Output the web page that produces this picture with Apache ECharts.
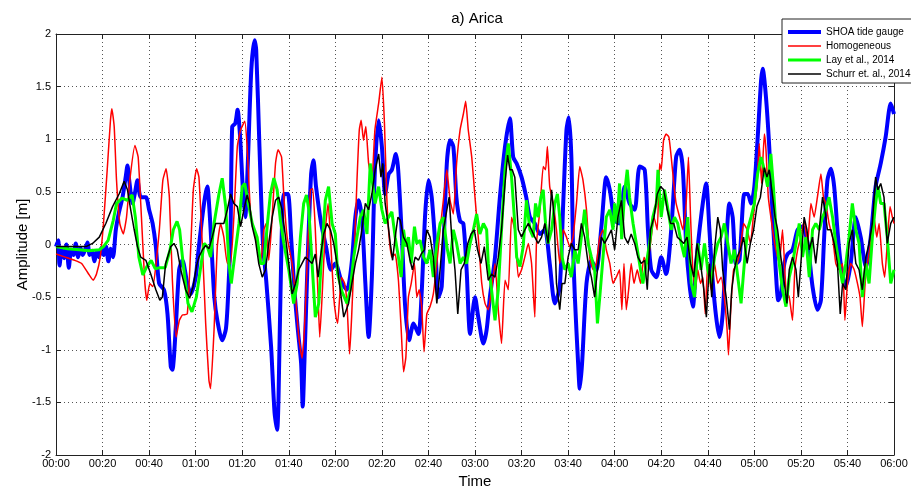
<!DOCTYPE html>
<html>
<head>
<meta charset="utf-8">
<title>a) Arica</title>
<script src="https://cdn.jsdelivr.net/npm/echarts@6/dist/echarts.min.js"></script>
<style>
  html, body { margin: 0; padding: 0; background: #fff; }
  #chart { width: 911px; height: 490px; }
</style>
</head>
<body>
<div id="chart"></div>
<script>
// Time axis in minutes after 00:00, amplitude in metres.
const timeTicks = { min: 0, max: 360, step: 20 };
const ampTicks = { min: -2, max: 2, step: 0.5 };

const seriesNames = ['SHOA tide gauge', 'Homogeneous', 'Lay et al., 2014', 'Schurr et. al., 2014'];

// Observed record at the SHOA tide gauge
const shoaGauge = [
  [0,-0.02],[1,0.04],[1.5,-0.2],[2.5,-0.05],[3.5,-0.13],[4.5,0.0],[5.5,-0.22],[6.5,-0.05],[7.5,-0.1],[8.5,0.01],
  [9.5,-0.12],[10.5,-0.03],[11.5,-0.1],[12.5,-0.05],[13.5,0.02],[14.5,-0.1],[15.5,-0.06],[16.5,-0.16],[17.5,-0.07],
  [18.5,-0.12],[19.5,-0.03],[20.5,-0.1],[21.5,-0.02],[22.5,-0.16],[23.5,-0.04],[24.5,-0.12],[25.7,0.14],[27,0.3],
  [28.6,0.45],[30,0.65],[30.7,0.75],[31.5,0.6],[32.9,0.39],[34,0.5],[35,0.61],[36.4,0.45],[38.6,0.45],[40,0.33],
  [41.5,0.2],[42.9,-0.02],[44.3,-0.37],[46.4,-0.43],[47.9,-0.66],[49.3,-1.16],[50,-1.19],[51.4,-0.81],[52.9,-0.24],
  [54.3,-0.15],[56.4,-0.37],[57.9,-0.47],[60,-0.31],[61,-0.1],[62.5,0.2],[64,0.45],[65,0.55],[66,0.3],[67,-0.1],
  [68,-0.5],[69.3,-0.72],[71.4,-0.91],[73,-0.8],[74,-0.45],[75,0.14],[75.7,1.12],[77,1.15],[78,1.28],[79,1.05],
  [80.3,0.52],[81.3,0.26],[82.4,0.77],[83.9,1.66],[85.3,1.94],[86,1.85],[87.4,0.93],[88.9,0.01],[90.3,-0.34],
  [92.4,-0.97],[93.9,-1.6],[95,-1.76],[95.6,-1.45],[96.7,-0.18],[97.9,0.48],[99.6,0.48],[101,0.07],[102.4,-0.43],
  [103.9,-0.81],[105.3,-1.13],[106,-1.54],[106.7,-1.13],[108.1,-0.15],[109.6,0.67],[110.6,0.8],[111.7,0.55],
  [113.9,0.2],[116,-0.02],[118.1,-0.24],[120,-0.18],[122.9,-0.37],[125,-0.43],[127,-0.18],[128.6,0.26],[130,0.42],
  [131.4,0.26],[132.9,-0.37],[134.3,-0.88],[135.7,-0.31],[137,0.71],[138.6,1.18],[140,0.93],[141.4,0.48],
  [142.9,0.67],[144.3,0.71],[146,0.86],[147,0.71],[148.6,0.07],[150,-0.59],[151.7,-0.91],[153.6,-0.75],
  [155.7,-0.85],[157,-0.5],[158.6,0.29],[160,0.61],[161.4,0.45],[162.9,0.01],[164.3,-0.5],[165.7,-0.4],
  [167.9,0.77],[169.3,0.99],[170.7,0.93],[172,0.45],[173.6,0.22],[175,0.2],[176.4,-0.24],[177.9,-0.85],[180,-0.5],
  [181.4,-0.69],[183.6,-0.94],[185,-0.81],[186.4,-0.5],[188.6,-0.12],[190.7,0.45],[192.9,0.93],[195,1.2],
  [196.4,0.83],[197.9,0.77],[200,0.64],[202,0.45],[203.6,0.26],[205.7,0.2],[207.9,0.1],[210,0.14],[212.1,-0.18],
  [214.3,-0.56],[216.4,-0.4],[217.9,0.39],[219.3,1.09],[220.3,1.21],[221.4,0.83],[222.1,0.0],[222.9,-0.5],
  [224.3,-1.13],[225,-1.37],[226,-1.13],[227.9,-0.37],[230,-0.15],[232.1,-0.24],[234.3,0.17],[236.4,0.64],
  [237.9,0.52],[240,0.23],[242,0.2],[244.3,0.55],[246.4,0.39],[248.6,0.33],[250.7,0.74],[252.9,0.71],[254.3,0.14],
  [255.7,-0.24],[257.9,-0.31],[260,-0.12],[262.1,-0.28],[264.3,0.14],[266.4,0.83],[267.9,0.9],[269.3,0.71],
  [270.7,0.01],[272.1,-0.37],[273.6,-0.59],[275,-0.18],[277.1,0.26],[279.3,0.58],[280.7,0.14],[282.1,-0.34],
  [283.6,-0.69],[285,-0.88],[286.4,-0.66],[287.9,-0.02],[289.3,0.39],[290.7,0.26],[292.1,-0.18],[293.6,-0.15],
  [295.7,0.48],[297.1,0.48],[298.6,0.39],[300,0.55],[301.4,1.0],[302.9,1.56],[303.6,1.67],[305,1.4],[306.4,0.93],
  [307.9,0.26],[309.3,-0.28],[310.3,-0.53],[311.4,-0.47],[312.9,-0.18],[314.3,-0.09],[316.4,-0.05],[318.6,0.14],
  [320.7,0.17],[322.9,0.01],[325,-0.4],[327.1,-0.62],[328.6,-0.53],[330,0.07],[331.4,0.61],[332.9,0.72],
  [334.3,0.55],[335.7,0.14],[337.1,-0.18],[339.3,-0.4],[341.4,-0.18],[343.6,0.26],[345.7,0.07],[347.9,-0.21],
  [350,0.07],[352.1,0.55],[354.3,0.77],[356.4,1.02],[358.6,1.34],[360,1.24]
];

// Homogeneous slip model
const homogeneous = [
  [0,-0.09],[4,-0.12],[8,-0.15],[11,-0.18],[14,-0.28],[16,-0.34],[17.4,-0.28],[19,-0.12],[20.4,0.2],[22,0.71],
  [23.4,1.18],[24,1.29],[25,1.12],[26,0.61],[27.4,0.2],[28.9,0.1],[30.3,0.26],[31.7,0.61],[33.9,0.94],[35.3,0.83],
  [36.7,0.26],[38.1,-0.34],[39,-0.53],[40.3,-0.37],[41.6,-0.4],[43,-0.18],[44.4,0.14],[45.9,0.61],[47.3,0.72],
  [48.7,0.45],[50,-0.34],[51.6,-0.88],[53,-0.72],[54.3,-0.67],[56.4,-0.66],[57.9,-0.02],[59,0.52],[60.4,0.72],
  [61.4,0.64],[62.9,-0.02],[64.3,-0.75],[65.7,-1.29],[66.4,-1.37],[67.9,-0.81],[69.3,-0.02],[70.7,0.2],[72.1,0.07],
  [73.6,-0.18],[75,-0.18],[76.4,0.26],[77.9,0.93],[79.3,1.09],[81.1,1.17],[82.1,0.93],[83.6,0.29],[85,0.14],
  [86.4,0.01],[87.9,-0.18],[89.3,0.14],[90.3,0.2],[91.4,-0.15],[92.6,0.17],[94.3,0.77],[95.4,0.9],[96.9,0.83],
  [97.9,0.45],[99.3,0.07],[101.4,-0.18],[102.9,-0.5],[104.3,-0.88],[105.7,-1.08],[106.7,-0.81],[107.9,-0.18],
  [109.3,0.52],[110.3,0.53],[111.4,0.14],[112.6,-0.5],[113.3,-0.88],[114.3,-0.5],[115.7,0.14],[116.9,0.39],
  [117.9,0.07],[119.3,-0.5],[120.3,-0.69],[121,-0.75],[122.6,-0.31],[124,-0.37],[125,-0.56],[126.1,-1.04],
  [127,-0.69],[128.3,0.01],[129.3,0.61],[130.3,1.09],[131.1,1.18],[132.1,0.99],[133.1,1.12],[134.3,0.77],
  [135.7,0.61],[137,1.09],[138.6,1.34],[140,1.59],[141.1,1.15],[142.1,0.45],[143.1,0.07],[144.3,-0.12],
  [145.7,-0.09],[147.1,-0.34],[148.3,-0.81],[149.3,-1.21],[150.3,-1.07],[151.4,-0.5],[152.6,-0.37],[154,-0.18],
  [155,-0.5],[156,-0.43],[157.1,-0.59],[158.1,-1.02],[159.3,-0.66],[160.7,-0.59],[162.1,-0.47],[163.6,-0.18],
  [165,0.14],[166.4,0.42],[167.9,0.71],[169.3,0.42],[170.7,0.29],[172.1,0.77],[173.6,1.09],[175,1.24],[176,1.36],
  [177.1,1.09],[178.6,0.83],[180,0.45],[181.4,0.07],[182.9,-0.37],[184.3,-0.56],[185.7,-0.62],[187.1,-0.43],
  [188.6,-0.18],[190,-0.62],[191.4,-0.94],[192.9,-0.34],[194.3,-0.43],[195.7,0.26],[197.1,0.14],[198.6,-0.31],
  [200,-0.24],[201.4,-0.12],[202.9,0.01],[204.3,-0.18],[205.7,-0.69],[206.4,0.01],[207.9,0.33],[209.3,0.74],
  [210.3,0.71],[211.1,0.93],[212.1,0.55],[213.6,0.39],[215,0.14],[216.4,-0.18],[217.9,0.14],[219.3,0.07],
  [220.7,-0.02],[222.1,0.07],[223.6,0.39],[225,0.74],[226.4,0.61],[227.9,0.33],[229.3,-0.12],[230.7,-0.24],
  [232.1,-0.18],[233.6,0.07],[235,0.14],[236.4,-0.05],[237.9,-0.18],[239.3,-0.37],[240.7,-0.31],[242.1,-0.24],
  [243.1,-0.62],[244,-0.18],[245,-0.62],[246,-0.43],[247.1,-0.18],[248.3,-0.37],[249.7,-0.24],[251.1,-0.37],
  [252.6,-0.12],[254,-0.18],[255.4,0.01],[256.9,0.26],[258.3,0.14],[259.3,0.77],[260,0.71],[261,0.99],
  [262.1,1.05],[263.3,1.02],[264.3,0.83],[265.4,0.58],[266.4,0.39],[267.9,0.26],[269.3,0.14],[270.7,0.39],
  [271.7,0.83],[272.6,0.26],[273.6,-0.24],[274.7,-0.43],[275.7,-0.24],[276.9,-0.37],[277.9,-0.31],[278.9,-0.66],
  [280,-0.18],[281.4,-0.43],[282.9,-0.18],[284.3,-0.37],[285.7,-0.31],[287.1,-0.5],[288.3,-0.81],[288.9,-1.05],
  [290,-0.56],[291.1,-0.24],[292.6,-0.18],[294,-0.05],[295.4,0.2],[296.9,0.14],[298.3,0.01],[299.7,0.29],
  [301.1,0.55],[302.1,0.96],[303.1,0.58],[304.3,1.05],[305,0.9],[306,0.45],[307.1,0.26],[308.3,0.07],[309.3,-0.05],
  [310.7,-0.18],[312.1,0.14],[313.6,-0.43],[315,-0.5],[316.4,-0.72],[317.4,-0.24],[318.6,-0.05],[320,0.07],
  [321.4,0.23],[322.9,0.01],[324.3,0.39],[325.7,0.26],[327.1,0.45],[328.6,0.67],[329.7,0.45],[330.7,0.39],
  [332.1,0.2],[333.6,0.07],[335,-0.18],[336.4,-0.24],[337.9,-0.18],[338.9,-0.72],[340,-0.37],[341.4,-0.18],
  [342.9,-0.24],[344.3,-0.37],[345.4,-0.5],[346.4,-0.78],[347.6,-0.37],[348.6,-0.18],[350,0.01],[351.4,0.26],
  [352.6,0.07],[353.6,0.2],[355,-0.18],[356,-0.31],[357.1,0.01],[358.3,0.36],[359.3,0.26],[360,0.2]
];

// Lay et al. (2014) source model
const layModel = [
  [0,-0.02],[5,-0.04],[10,-0.05],[14,-0.06],[18.6,-0.05],[20.4,-0.02],[22.4,0.04],[24.6,0.23],[26,0.39],
  [28.4,0.44],[30.6,0.42],[32.7,0.47],[34.1,0.26],[35.6,-0.12],[37.3,-0.29],[39,-0.21],[40.9,-0.15],[42.6,-0.23],
  [44.7,-0.22],[46.9,-0.22],[49,-0.05],[50.4,0.14],[52,0.22],[53.1,0.14],[54.6,-0.18],[56.7,-0.56],[58.4,-0.64],
  [60.3,-0.5],[62,-0.24],[63.6,0.01],[65,-0.02],[66.4,-0.12],[67.9,0.2],[70,0.48],[71.4,0.63],[72.9,0.36],
  [74.3,-0.18],[75.3,-0.37],[77,-0.07],[78.6,0.2],[80,0.55],[81.1,0.58],[82.6,0.39],[84.3,0.2],[86.4,0.07],
  [87.9,-0.18],[89.3,-0.18],[90.7,0.17],[92.1,0.48],[93.6,0.63],[95,0.52],[96.4,0.23],[97.9,0.01],[100,-0.24],
  [102.1,-0.56],[103.6,-0.37],[105,0.07],[106.4,0.39],[107.6,0.47],[108.6,0.33],[110,-0.18],[111.4,-0.69],
  [112.9,-0.56],[114.3,-0.02],[115.7,0.42],[117.1,0.55],[118.6,0.2],[120,0.1],[121,-0.28],[122.9,-0.45],[125,-0.56],
  [126.4,-0.43],[127.9,-0.12],[129.3,0.07],[130.7,0.26],[132.1,0.33],[133.6,0.1],[135,0.77],[136,0.58],[137.1,0.39],
  [138.6,0.55],[140,0.33],[141.4,0.2],[142.9,0.26],[144.3,0.31],[145.7,0.07],[147.1,-0.12],[148.3,-0.31],
  [149.3,0.14],[150.3,-0.02],[151.4,0.07],[152.6,-0.18],[154,0.17],[155,0.01],[156.4,0.04],[157.9,-0.12],
  [159.3,-0.18],[160.7,-0.05],[162.1,-0.31],[163.6,0.01],[165,0.2],[166.4,0.26],[167.9,-0.02],[169.3,-0.18],
  [170.7,0.14],[172.1,0.01],[173.6,-0.18],[175,-0.12],[176.4,-0.18],[177.9,0.01],[179.3,0.14],[180.7,0.29],
  [182.1,0.1],[183.6,0.2],[185,0.14],[185.7,-0.18],[187.1,-0.43],[188.6,-0.72],[190,-0.43],[191.4,0.14],
  [192.9,0.71],[194.3,0.96],[195.7,0.64],[196.9,0.26],[197.9,-0.12],[199.3,-0.21],[200.7,-0.02],[202.1,0.42],
  [203.6,0.14],[205,0.07],[206,0.39],[207.1,0.26],[208.3,0.45],[209.3,0.52],[210.3,0.2],[211.4,0.01],[212.9,0.14],
  [214.3,0.39],[215.4,0.48],[216.4,0.26],[217.4,-0.12],[218.6,-0.24],[220,-0.18],[221.4,-0.31],[222.9,-0.05],
  [224.3,-0.18],[225.7,0.07],[227.1,0.33],[228.6,0.01],[230,-0.12],[231.4,-0.24],[232.6,-0.75],[233.6,-0.5],
  [235,-0.12],[236.4,0.26],[237.9,0.33],[239.3,0.14],[240,0.39],[241,0.2],[242.1,0.58],[243,0.05],[244.3,0.5],
  [245.4,0.71],[246.4,0.45],[247.9,0.2],[249.3,0.01],[250.7,-0.18],[252.1,-0.37],[253.6,-0.18],[255,0.01],
  [256.4,0.26],[257.9,0.39],[258.6,0.71],[260,0.26],[261.4,0.52],[262.9,0.33],[264.3,0.14],[265.7,0.26],
  [267.1,0.2],[268.6,0.01],[270,-0.12],[271.4,0.26],[272.9,-0.37],[274.3,-0.5],[275.7,0.01],[277.1,-0.24],
  [278.6,0.01],[280,-0.24],[281.4,-0.37],[282.9,-0.12],[284.3,0.01],[285.7,0.07],[287.1,0.2],[288.6,0.01],
  [290,-0.18],[291.4,-0.05],[292.9,-0.31],[294.3,-0.56],[295.7,-0.18],[297.1,0.14],[298.6,0.26],[300,0.39],
  [301.4,0.67],[302.9,0.83],[304.3,0.71],[305.7,0.55],[307.1,0.86],[308.3,0.52],[309.3,0.14],[310.7,-0.18],
  [312.1,-0.43],[313.6,-0.59],[315,-0.31],[316.4,-0.18],[317.9,0.01],[319.3,0.2],[320.7,-0.12],[322.1,0.07],
  [323.6,-0.31],[325,0.14],[326.4,0.2],[327.9,0.14],[329.3,0.26],[330.7,0.33],[332.1,0.45],[333.6,0.26],[335,0.01],
  [336.4,-0.18],[337.9,-0.37],[339.3,-0.18],[340.7,0.07],[342.1,0.39],[343.6,0.14],[345,0.01],[346.4,-0.5],
  [347.9,-0.18],[349.3,-0.37],[350.7,0.07],[352.1,0.39],[353.1,0.55],[354.3,0.39],[355.7,0.39],[357.1,0.07],
  [358.6,-0.37],[360,-0.24]
];

// Schurr et al. (2014) source model
const schurrModel = [
  [0,-0.02],[5,-0.02],[10,-0.02],[12.9,-0.02],[15.7,0.01],[18.6,0.07],[21.4,0.2],[24.3,0.36],[27.1,0.48],
  [29.3,0.6],[30.7,0.52],[32.1,0.33],[33.6,0.14],[35,-0.02],[36.4,-0.12],[38.6,-0.15],[40.7,-0.28],[42.9,-0.43],
  [44.6,-0.53],[45.7,-0.5],[47.1,-0.18],[49.3,-0.02],[50.7,0.01],[52.1,-0.05],[53.6,-0.24],[55.7,-0.43],
  [57.4,-0.51],[58.9,-0.4],[60.4,-0.2],[61.4,-0.12],[62.9,-0.05],[64.3,-0.01],[65.7,-0.04],[67.1,0.07],[68.6,0.2],
  [70.7,0.2],[72.1,0.2],[73.6,0.33],[75,0.48],[76.4,0.39],[77.9,0.36],[79.3,0.17],[80.7,0.33],[82.1,0.47],
  [83.1,0.39],[84.3,0.17],[85.7,0.04],[87.1,-0.18],[88.6,-0.31],[90,-0.24],[91.4,0.01],[92.9,0.26],[94.3,0.42],
  [95.7,0.45],[97.1,0.33],[98.6,0.07],[100,-0.18],[101.4,-0.47],[102.9,-0.37],[104.3,-0.24],[105.7,-0.18],
  [107.1,-0.12],[108.6,-0.15],[110,-0.18],[111.4,-0.09],[112.6,-0.31],[113.6,-0.12],[115,0.1],[116.4,0.2],
  [117.9,0.14],[119.3,0.01],[120.7,-0.18],[122.1,-0.43],[123.6,-0.69],[125.7,-0.56],[127.1,-0.37],[128.6,-0.18],
  [130,-0.05],[131.4,0.14],[132.9,0.39],[134.3,0.33],[135.7,0.48],[137.1,0.71],[138.6,0.86],[139.6,0.64],
  [140.4,0.77],[141.4,0.39],[142.6,0.2],[143.6,0.01],[144.6,-0.15],[145.7,0.07],[146.9,0.26],[147.9,0.23],
  [149.3,0.07],[150.7,0.01],[152.1,-0.15],[153.1,-0.24],[154.3,-0.12],[155.7,-0.15],[156.9,-0.09],[158.3,-0.05],
  [159.3,0.14],[160.7,0.07],[162.1,-0.12],[163.6,-0.56],[165,-0.24],[166.4,0.14],[167.9,0.33],[168.9,0.45],
  [170,0.07],[171.4,-0.24],[172.6,-0.66],[174,-0.24],[175.4,-0.18],[176.9,0.01],[178.3,0.1],[179.7,0.14],
  [181.1,-0.05],[182.6,-0.18],[184,-0.02],[185.7,-0.34],[187.1,-0.28],[188.6,-0.31],[190,-0.12],[191.4,0.14],
  [192.9,0.58],[194,0.85],[195,0.71],[196,0.71],[197.1,0.64],[198.6,0.14],[200,0.07],[201.4,0.14],[202.9,0.2],
  [204.3,0.14],[205.7,0.07],[207.1,0.01],[208.6,0.07],[210,0.2],[211.4,0.01],[212.9,0.52],[214,0.26],[215,-0.37],
  [216.4,-0.62],[217.4,-0.37],[218.6,-0.37],[220,-0.12],[221.4,0.01],[222.9,-0.05],[224.3,-0.05],[225.7,0.2],
  [227.1,0.07],[228.6,-0.18],[230,-0.31],[231.4,-0.5],[232.9,-0.18],[234.3,0.07],[235.7,0.01],[237.1,0.07],
  [238.6,0.14],[240,-0.05],[241.4,0.26],[242.9,0.42],[244.3,0.07],[245.7,0.01],[247.1,0.1],[248.6,0.01],[250,-0.12],
  [251.4,-0.18],[252.9,-0.15],[254,-0.43],[255.4,0.14],[256.9,0.26],[258.3,0.48],[259.7,0.55],[261.1,0.52],
  [262.6,0.33],[264,0.2],[265.4,0.2],[266.9,0.07],[268.3,0.04],[269.7,0.01],[271.1,0.07],[272.6,-0.18],[274,-0.31],
  [275.4,0.01],[276.9,-0.18],[278.3,-0.43],[279.4,-0.69],[280.7,-0.18],[281.7,-0.5],[282.9,-0.05],[284.3,0.26],
  [285.4,0.14],[286.4,-0.24],[287.9,-0.5],[289.3,-0.81],[290.3,-0.43],[291.4,-0.24],[292.6,-0.12],[294,-0.05],
  [295.4,0.07],[296.9,-0.18],[298.3,0.01],[299.7,0.14],[301.1,0.36],[302.6,0.45],[304.3,0.73],[305.4,0.64],
  [306.4,0.71],[307.9,0.45],[308.9,0.26],[310,0.14],[311.4,-0.12],[312.9,-0.37],[314,-0.56],[315,-0.24],
  [316.4,-0.12],[317.9,-0.24],[318.9,-0.5],[320,-0.18],[321.4,0.26],[322.6,0.14],[323.6,-0.05],[325,0.07],
  [326.4,-0.18],[327.9,0.14],[329.3,0.45],[330.3,0.33],[331.4,0.14],[332.9,0.14],[334.3,0.01],[335.7,-0.18],
  [336.9,-0.66],[337.9,-0.37],[339.3,-0.43],[340.7,0.01],[342.1,0.14],[343.6,-0.18],[345,-0.24],[346.4,-0.43],
  [347.9,-0.12],[349.3,0.01],[350.7,0.2],[352.1,0.64],[353.1,0.52],[354.3,0.58],[355.7,0.45],[357.1,0.01],
  [358.6,0.2],[360,0.26]
];

const FONT = '"Liberation Sans", Arial, Helvetica, sans-serif';

// Line look per series: colour and stroke width
const seriesColors = ['#0000ff', '#ff0000', '#00ff00', '#000000'];
const seriesWidths = [4, 1.5, 3, 1.5];

function hhmm(minutes) {
  const h = Math.floor(minutes / 60);
  const m = Math.round(minutes % 60);
  return String(h).padStart(2, '0') + ':' + String(m).padStart(2, '0');
}

const gridDots = { show: true, lineStyle: { color: '#555', width: 1, type: [1, 3] } };
const boxLine = { show: true, onZero: false, lineStyle: { color: '#222', width: 1 } };
const inTick = { show: true, inside: true, length: 5, lineStyle: { color: '#222', width: 1 } };

const chart = echarts.init(document.getElementById('chart'), null, { renderer: 'canvas' });

const dataSets = [shoaGauge, homogeneous, layModel, schurrModel];
const smoothing = [0.25, 0.15, false, false];

chart.setOption({
  animation: false,
  backgroundColor: '#fff',
  textStyle: { fontFamily: FONT },
  grid: { left: 56, right: 17, top: 34, bottom: 35, containLabel: false, outerBoundsMode: 'none' },
  title: {
    text: 'a) Arica',
    left: 472, top: 6,
    textAlign: 'center',
    textStyle: { fontFamily: FONT, fontSize: 15, fontWeight: 'normal', color: '#000' }
  },
  legend: {
    orient: 'vertical',
    left: 782, top: 19,
    itemWidth: 33, itemHeight: 10, itemGap: 4,
    padding: [8, 2, 4, 4],
    backgroundColor: '#fff',
    borderColor: '#222', borderWidth: 1, borderRadius: 0,
    itemStyle: { opacity: 0 },
    textStyle: { fontFamily: FONT, fontSize: 10, color: '#000', lineHeight: 10 },
    data: seriesNames.map((name, i) => ({
      name,
      lineStyle: { color: seriesColors[i], width: seriesWidths[i] },
      itemStyle: { opacity: 0 }
    }))
  },
  xAxis: [
    {
      type: 'value', position: 'bottom',
      min: timeTicks.min, max: timeTicks.max, interval: timeTicks.step,
      name: 'Time', nameLocation: 'middle', nameGap: 19, nameMoveOverlap: false,
      nameTextStyle: { fontFamily: FONT, fontSize: 15, color: '#000' },
      axisLine: boxLine, axisTick: inTick, splitLine: gridDots,
      axisLabel: { fontFamily: FONT, fontSize: 11, color: '#000', margin: 3, formatter: v => hhmm(v) }
    },
    {
      type: 'value', position: 'top',
      min: timeTicks.min, max: timeTicks.max, interval: timeTicks.step,
      axisLine: boxLine, axisTick: inTick, splitLine: { show: false }, axisLabel: { show: false }
    }
  ],
  yAxis: [
    {
      type: 'value', position: 'left',
      min: ampTicks.min, max: ampTicks.max, interval: ampTicks.step,
      name: 'Amplitude [m]', nameLocation: 'middle', nameGap: 26, nameRotate: 90, nameMoveOverlap: false,
      nameTextStyle: { fontFamily: FONT, fontSize: 15, color: '#000' },
      axisLine: boxLine, axisTick: inTick, splitLine: gridDots,
      axisLabel: { fontFamily: FONT, fontSize: 11, color: '#000', margin: 5 }
    },
    {
      type: 'value', position: 'right',
      min: ampTicks.min, max: ampTicks.max, interval: ampTicks.step,
      axisLine: boxLine, axisTick: inTick, splitLine: { show: false }, axisLabel: { show: false }
    }
  ],
  series: seriesNames.map((name, i) => ({
    name,
    type: 'line',
    data: dataSets[i],
    symbol: 'none',
    smooth: smoothing[i],
    lineStyle: { color: seriesColors[i], width: seriesWidths[i] },
    itemStyle: { color: seriesColors[i] },
    z: 2 + i
  }))
});
</script>
</body>
</html>
